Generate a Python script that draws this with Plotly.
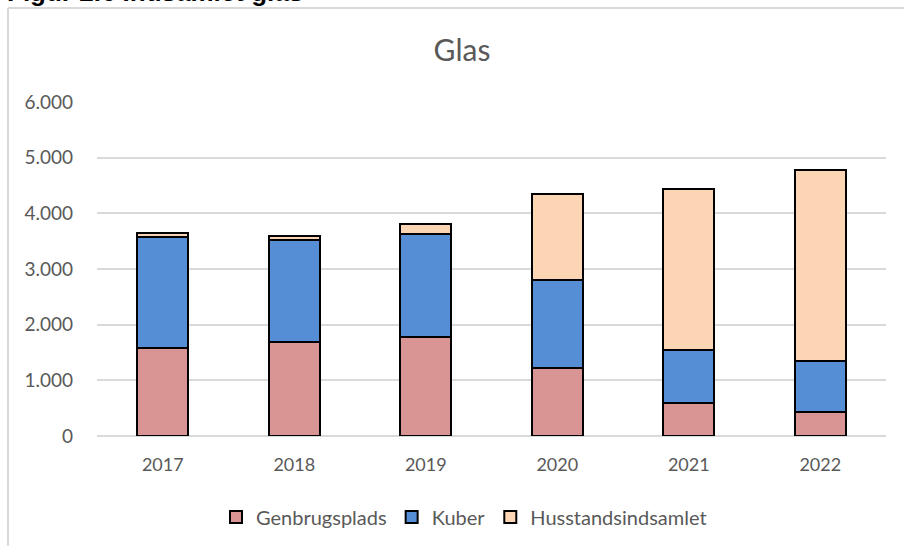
import plotly.graph_objects as go

years = ["2017", "2018", "2019", "2020", "2021", "2022"]
genbrugsplads = [1580, 1690, 1770, 1220, 600, 440]
kuber = [2000, 1830, 1850, 1590, 950, 900]
husstand = [60, 80, 180, 1530, 2890, 3430]

series_names = ["Genbrugsplads", "Kuber", "Husstandsindsamlet"]
series_colors = ["#D99594", "#558ED5", "#FCD5B4"]

W, H = 904, 546
L, R, T, B = 97, 18, 102, 110
pw, ph = W - L - R, H - T - B

def px_x(x):
    return (x - L) / pw

def px_y(y):
    return (H - B - y) / ph

fig = go.Figure()
for name, vals, col in zip(series_names, [genbrugsplads, kuber, husstand], series_colors):
    fig.add_trace(go.Bar(
        x=years, y=vals, name=name,
        marker=dict(color=col, line=dict(color="#000000", width=2)),
    ))

gray = "#595959"
font = "Lato, 'Open Sans', sans-serif"

fig.update_layout(
    width=W, height=H,
    margin=dict(l=L, r=R, t=T, b=B, autoexpand=False),
    barmode="stack", bargap=0.61,
    paper_bgcolor="white", plot_bgcolor="white",
    separators=",.",
    font=dict(family=font, color=gray, size=18),
    title=dict(text="Glas", x=px_x(462), xanchor="center", xref="paper",
               y=1 - 50 / H, yanchor="middle", yref="container",
               font=dict(family=font, size=30, color=gray)),
    xaxis=dict(showgrid=False, showline=False, ticks="", ticklabelstandoff=16,
               tickfont=dict(size=18, color=gray)),
    yaxis=dict(range=[0, 6000], dtick=1000, tickformat=",d",
               showgrid=True, gridcolor="#D9D9D9", gridwidth=2,
               zeroline=True, zerolinecolor="#D9D9D9", zerolinewidth=2,
               showline=False, ticks="", ticklabelstandoff=23,
               tickfont=dict(size=19, color=gray)),
    legend=dict(orientation="h", x=px_x(464), xanchor="center",
                y=px_y(517), yanchor="middle",
                font=dict(size=20, color=gray), traceorder="normal",
                itemsizing="constant"),
    showlegend=True,
)

# chart frame (light gray), left and top edges
fig.add_shape(type="line", xref="paper", yref="paper",
              x0=px_x(8), x1=px_x(W + 5), y0=px_y(8), y1=px_y(8),
              line=dict(color="#D9D9D9", width=2))
fig.add_shape(type="line", xref="paper", yref="paper",
              x0=px_x(8), x1=px_x(8), y0=px_y(8), y1=px_y(H + 5),
              line=dict(color="#D9D9D9", width=2))

fig.add_annotation(text="<b>Figur 2.6 Indsamlet glas</b>", xref="paper", yref="paper",
                   x=px_x(5), xanchor="left", y=px_y(9), yanchor="bottom",
                   showarrow=False, font=dict(family="Arial, 'Liberation Sans'", size=26, color="#000000"))

fig.write_html("out.html", config={"displayModeBar": False},
               post_script="document.body.style.margin='0';document.body.style.overflow='hidden';")
